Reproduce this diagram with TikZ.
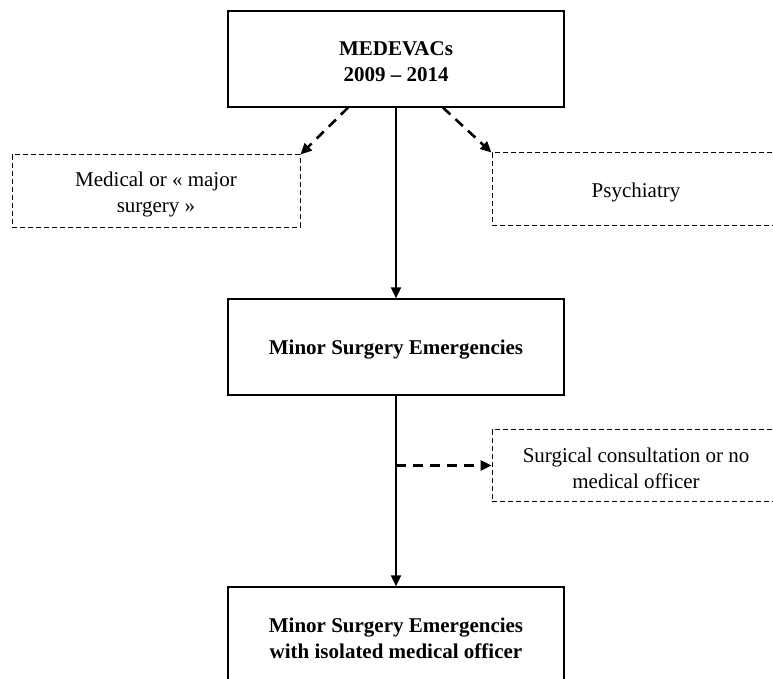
\documentclass[tikz,border=0pt]{standalone}
\usepackage{fontspec}
\setmainfont{Liberation Serif}
\usetikzlibrary{arrows.meta}
\begin{document}
\begin{tikzpicture}[x=1pt,y=-1pt,
  mainbox/.style={draw, line width=1.3pt, minimum width=336pt, minimum height=96pt, inner sep=0pt},
  sidebox/.style={draw, line width=1pt, dash pattern=on 5pt off 3pt, minimum width=288pt, minimum height=72pt, inner sep=0pt},
  maintext/.style={align=center, inner sep=0pt, yshift=-3pt, font=\fontsize{21}{26}\selectfont\bfseries},
  sidetext/.style={align=center, inner sep=0pt, yshift=-3pt, font=\fontsize{21}{26}\selectfont},
  flow/.style={line width=2pt, -{Triangle[length=11pt,width=10pt]}},
  branch/.style={line width=2.6pt, dash pattern=on 10pt off 7pt, -{Triangle[length=11pt,width=10pt]}}
]
\useasboundingbox (0,0) rectangle (773,679);
\clip (0,0) rectangle (773,679);
\fill[white] (0,0) rectangle (773,679);

\node[mainbox, label={[maintext]center:{MEDEVACs\\2009 – 2014}}] (top) at (396,59) {};
\node[mainbox, label={[maintext]center:{Minor Surgery Emergencies}}] (mid) at (396,347) {};
\node[mainbox, label={[maintext]center:{Minor Surgery Emergencies\\with isolated medical officer}}] (bot) at (396,635) {};

\node[sidebox, label={[sidetext]center:{Medical or «~major\\surgery~»}}] (med) at (156,191) {};
\node[sidebox, label={[sidetext]center:{Psychiatry}}] (psy) at (636,189) {};
\node[sidebox, label={[sidetext]center:{Surgical consultation or no\\medical officer}}] (sur) at (636,465.5) {};

\coordinate (l1) at ([xshift=-48pt]top.south);
\coordinate (r1) at ([xshift=47pt]top.south);
\coordinate (m1) at (mid.south |- sur.west);

\draw[flow] (top.south) -- (mid.north);
\draw[flow] (mid.south) -- (bot.north);
\draw[branch] (l1) -- (med.north east);
\draw[branch] (r1) -- (psy.north west);
\draw[branch] (m1) -- (sur.west);
\end{tikzpicture}
\end{document}
